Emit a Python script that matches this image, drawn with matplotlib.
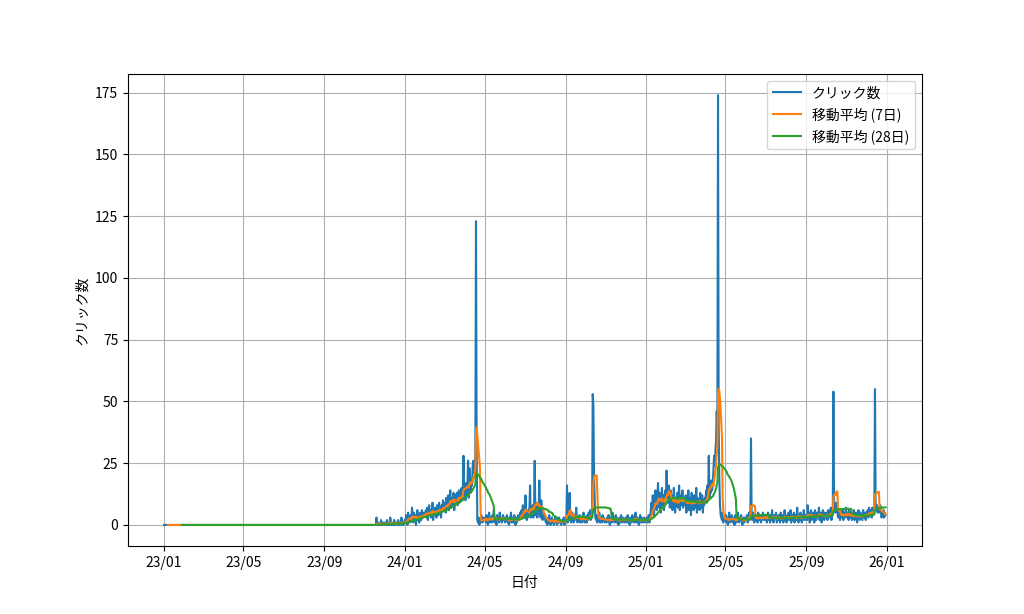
import pandas as pd
import matplotlib.pyplot as plt
import matplotlib.dates as mdates

plt.rcParams['font.family'] = ['Noto Sans CJK JP', 'DejaVu Sans']

start_date = "2023-01-01"

# daily clicks, 2023-01-01 .. 2023-11-18 were all zero
clicks_2023 = [0] * 322 + [
    3, 0, 0, 1, 0, 0, 0, 2, 0, 0, 1, 0,  # Nov 19-30
    0, 1, 0, 0, 2, 0, 1, 0, 0, 3, 1, 0, 0, 1, 0, 2, 0, 0, 1, 1, 0, 2, 0, 0, 1, 0, 3, 1, 0, 0, 1,  # Dec
]

clicks_2024 = [
    2, 1, 4, 3, 0, 5, 2, 3, 1, 4, 2, 7, 3, 1, 5, 2, 4, 0, 3, 6, 2, 4, 1, 5, 3, 2, 6, 4, 3, 5, 4,  # Jan
    4, 6, 3, 7, 2, 5, 8, 4, 6, 3, 5, 9, 2, 6, 4, 7, 5, 3, 8, 6, 4, 9, 5, 7, 3, 8, 6, 10, 7,  # Feb
    6, 9, 5, 11, 7, 8, 12, 6, 10, 14, 7, 9, 11, 8, 13, 6, 10, 12, 9, 13, 8, 11, 14, 9, 12, 10, 15, 11, 13, 28, 12,  # Mar
    14, 10, 17, 12, 16, 26, 11, 23, 15, 13, 18, 16, 24, 26, 21, 25, 28, 123, 30, 2, 1, 3, 0, 2, 1, 4, 2, 1, 3, 2,  # Apr
    2, 3, 1, 4, 2, 0, 3, 5, 1, 2, 3, 1, 4, 2, 6, 1, 3, 2, 0, 4, 2, 3, 1, 5, 2, 3, 1, 2, 4, 3, 2,  # May
    1, 3, 2, 4, 1, 2, 0, 3, 2, 5, 1, 2, 3, 1, 4, 2, 0, 3, 1, 2, 4, 3, 2, 5, 4, 6, 3, 8, 5, 7,  # Jun
    3, 12, 4, 2, 6, 3, 5, 7, 16, 3, 5, 4, 8, 3, 6, 26, 4, 6, 9, 3, 7, 5, 18, 5, 3, 10, 4, 2, 5, 3, 4,  # Jul
    2, 1, 3, 0, 2, 1, 4, 1, 0, 2, 3, 1, 2, 0, 1, 3, 2, 1, 0, 2, 1, 3, 1, 2, 0, 1, 2, 1, 3, 0, 2,  # Aug
    2, 3, 16, 1, 4, 2, 13, 3, 1, 2, 5, 3, 1, 4, 2, 3, 7, 2, 1, 3, 2, 4, 1, 3, 2, 1, 3, 5, 2, 1,  # Sep
    2, 3, 1, 4, 2, 5, 3, 6, 2, 4, 3, 53, 48, 20, 10, 3, 2, 4, 1, 3, 2, 5, 1, 2, 3, 1, 4, 2, 3, 1, 2,  # Oct
    2, 1, 3, 2, 4, 1, 0, 3, 2, 1, 5, 2, 3, 1, 2, 4, 1, 3, 2, 0, 2, 3, 1, 4, 2, 1, 3, 2, 1, 2,  # Nov
    3, 1, 2, 4, 1, 2, 0, 3, 2, 1, 4, 2, 3, 1, 2, 5, 1, 2, 3, 1, 0, 2, 4, 1, 3, 2, 1, 2, 3, 1, 2,  # Dec
]

clicks_2025 = [
    2, 3, 1, 2, 4, 1, 3, 6, 9, 5, 12, 7, 4, 10, 14, 8, 6, 11, 17, 9, 7, 13, 5, 10, 15, 8, 12, 6, 9, 14, 11,  # Jan
    22, 13, 9, 16, 11, 7, 14, 8, 12, 6, 10, 15, 9, 5, 11, 8, 13, 7, 10, 16, 6, 9, 12, 8, 14, 7, 11, 9,  # Feb
    8, 12, 5, 10, 7, 14, 6, 9, 11, 4, 13, 8, 10, 6, 12, 9, 7, 15, 5, 11, 8, 10, 6, 13, 9, 7, 12, 5, 10, 8, 11,  # Mar
    10, 14, 9, 16, 12, 28, 11, 15, 13, 18, 14, 17, 22, 28, 24, 30, 34, 46, 38, 174, 40, 18, 8, 4, 3, 2, 5, 1, 3, 2,  # Apr
    2, 4, 1, 3, 0, 2, 5, 1, 3, 2, 4, 1, 2, 3, 0, 4, 2, 1, 3, 5, 2, 1, 3, 2, 4, 1, 0, 3, 2, 1, 3,  # May
    3, 2, 4, 1, 3, 5, 2, 4, 35, 3, 2, 5, 4, 1, 3, 2, 4, 3, 1, 5, 2, 3, 4, 1, 2, 3, 5, 2, 4, 3,  # Jun
    2, 4, 1, 3, 5, 2, 3, 1, 4, 2, 6, 3, 1, 2, 4, 3, 5, 1, 2, 3, 4, 2, 1, 5, 3, 2, 4, 1, 3, 6, 2,  # Jul
    3, 1, 4, 2, 5, 3, 2, 6, 1, 4, 3, 2, 5, 1, 3, 4, 2, 7, 3, 1, 4, 2, 5, 3, 1, 4, 2, 6, 3, 2, 4,  # Aug
    4, 2, 8, 3, 5, 1, 4, 6, 2, 3, 5, 4, 1, 6, 3, 2, 5, 4, 3, 7, 2, 4, 5, 1, 3, 6, 4, 2, 5, 3,  # Sep
    3, 5, 2, 6, 4, 3, 5, 7, 2, 4, 6, 54, 6, 8, 5, 9, 7, 6, 3, 4, 6, 2, 5, 3, 4, 6, 2, 5, 3, 4, 7,  # Oct
    4, 3, 5, 2, 6, 4, 3, 5, 2, 4, 3, 6, 2, 4, 5, 3, 1, 4, 6, 3, 2, 5, 4, 3, 2, 6, 4, 3, 5, 2,  # Nov
    5, 4, 6, 3, 7, 4, 5, 6, 3, 7, 4, 5, 6, 55, 7, 6, 8, 5, 7, 6, 5, 8, 6, 3, 5, 4, 6, 3, 5, 4,  # Dec (to 30th)
]

clicks = clicks_2023 + clicks_2024 + clicks_2025
dates = pd.date_range(start_date, periods=len(clicks), freq="D")
s = pd.Series(clicks, index=dates)

# moving averages
ma7 = s.rolling(7).mean()
ma28 = s.rolling(28).mean()

fig = plt.figure(figsize=(10.24, 6.14), dpi=100)
ax = fig.add_subplot(111)
ax.plot(s.index, s.values, label="クリック数")
ax.plot(ma7.index, ma7.values, label="移動平均 (7日)")
ax.plot(ma28.index, ma28.values, label="移動平均 (28日)")

ax.xaxis.set_major_locator(mdates.MonthLocator(bymonth=[1, 5, 9]))
ax.xaxis.set_major_formatter(mdates.DateFormatter("%y/%m"))
ax.set_xlabel("日付")
ax.set_ylabel("クリック数")
ax.grid(True)
ax.legend(loc="upper right")

fig.savefig("out.png", dpi=100)
